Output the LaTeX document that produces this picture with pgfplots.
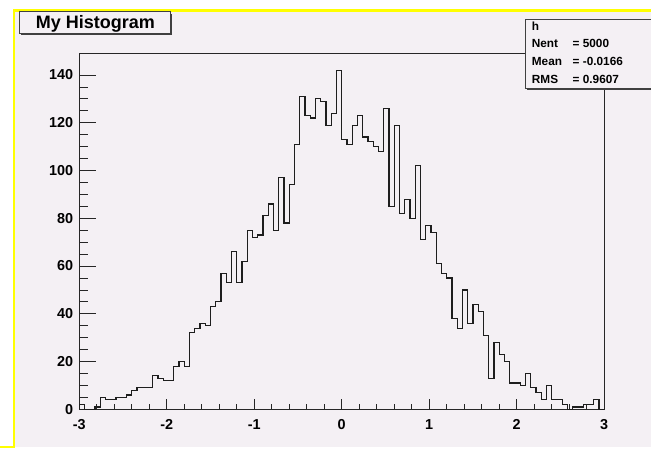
\documentclass[border=0pt]{standalone}
\usepackage{fontspec}
\setmainfont{Liberation Sans}
\usepackage{pgfplots}
\pgfplotsset{compat=1.18}
\usepackage{pgfplotstable}
\definecolor{padbg}{RGB}{244,240,244}
\definecolor{rootyellow}{RGB}{255,255,0}
\definecolor{linecol}{RGB}{30,30,30}

\pgfplotstableread{
x y
-3.00 0
-3.00 2
-2.94 0
-2.88 0
-2.82 1
-2.76 5
-2.70 4
-2.64 4
-2.58 5
-2.52 5
-2.46 6
-2.40 8
-2.34 9
-2.28 9
-2.22 9
-2.16 14
-2.10 13
-2.04 12
-1.98 12
-1.92 18
-1.86 20
-1.80 18
-1.74 32
-1.68 34
-1.62 36
-1.56 35
-1.50 43
-1.44 45
-1.38 57
-1.32 53
-1.26 66
-1.20 53
-1.14 62
-1.08 75
-1.02 72
-0.96 73
-0.90 81
-0.84 86
-0.78 75
-0.72 97
-0.66 78
-0.60 94
-0.54 111
-0.48 131
-0.42 123
-0.36 122
-0.30 130
-0.24 129
-0.18 119
-0.12 124
-0.06 142
0.00 113
0.06 111
0.12 119
0.18 123
0.24 114
0.30 112
0.36 110
0.42 108
0.48 126
0.54 85
0.60 119
0.66 82
0.72 88
0.78 80
0.84 102
0.90 71
0.96 77
1.02 74
1.08 61
1.14 57
1.20 55
1.26 38
1.32 34
1.38 50
1.44 36
1.50 44
1.56 41
1.62 31
1.68 13
1.74 28
1.80 23
1.86 20
1.92 11
1.98 11
2.04 10
2.10 15
2.16 9
2.22 7
2.28 4
2.34 10
2.40 4
2.46 4
2.52 2
2.58 0
2.64 1
2.70 1
2.76 2
2.82 2
2.88 4
2.94 0
3.00 0
}\histdata

\begin{document}
\begin{tikzpicture}[x=1pt,y=1pt]
\fill[white] (0,0) rectangle (651,449);
\fill[padbg] (13.8,2) rectangle (651,438.5);
\draw[rootyellow, line width=2.2pt] (0,2) -- (13.8,2) -- (13.8,438.5) -- (651,438.5);

\begin{axis}[
  at={(79.2pt,39.7pt)}, anchor=south west,
  scale only axis, width=525pt, height=356pt,
  xmin=-3, xmax=3, ymin=0, ymax=149.1,
  axis line style={black!85, line width=0.9pt},
  tick align=inside, xtick pos=bottom, ytick pos=left,
  xtick={-3,-2,-1,0,1,2,3}, xticklabels={-3,-2,-1,0,1,2,3},
  ytick={0,20,40,60,80,100,120,140}, yticklabels={0,20,40,60,80,100,120,140},
  minor x tick num=4, minor y tick num=3,
  xtick style={/pgfplots/major tick length=10.5pt, /pgfplots/minor tick length=5.3pt, black!85, line width=0.8pt},
  ytick style={/pgfplots/major tick length=16.5pt, /pgfplots/minor tick length=8.3pt, black!85, line width=0.8pt},
  ticklabel style={font=\bfseries\fontsize{14.4}{14.4}\selectfont, inner sep=0pt},
  xticklabel style={anchor=base, yshift=-20.7pt},
  yticklabel style={anchor=east, xshift=-5.9pt},
]
\addplot[const plot, line width=1.2pt, color=linecol, line join=miter] table[x=x,y=y] {\histdata};
\end{axis}

% title box
\fill[black!75] (21,414.2) rectangle (172.3,435.3);
\filldraw[fill=padbg, draw=black!75, line width=0.8pt] (19,416) rectangle (170.5,437.3);
\node[anchor=base, inner sep=0pt, font=\bfseries\fontsize{18}{18}\selectfont] at (95.3,420.7) {My Histogram};

% stats box
\fill[black!75] (527,359) rectangle (655,427.7);
\filldraw[fill=padbg, draw=black!75, line width=0.8pt] (525,361) rectangle (653,429.7);
\begin{scope}[every node/.style={inner sep=0pt, font=\bfseries\fontsize{11.8}{12}\selectfont}]
\node[anchor=base west] at (531.7,418.3) {h};
\node[anchor=base west] at (531.7,401.7) {Nent};
\node[anchor=base west] at (572.5,401.7) {= 5000};
\node[anchor=base west] at (531.7,383) {Mean};
\node[anchor=base west] at (572.5,383) {= -0.0166};
\node[anchor=base west] at (531.7,365) {RMS};
\node[anchor=base west] at (572.5,365) {= 0.9607};
\end{scope}
\pgfresetboundingbox
\useasboundingbox (0,0) rectangle (651,449);
\end{tikzpicture}
\end{document}
